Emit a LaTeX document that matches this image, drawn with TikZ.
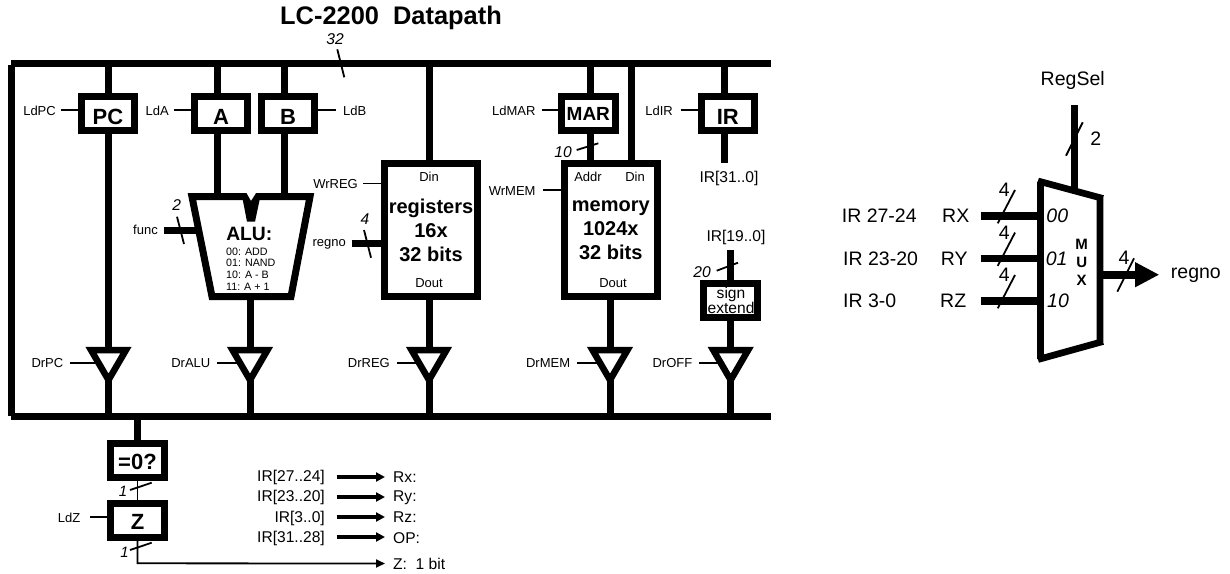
\documentclass[tikz,border=0pt]{standalone}
\usepackage{fontspec}
\setmainfont{Liberation Sans}
\usetikzlibrary{arrows.meta,shapes.geometric,calc}
\newcommand\fsz[1]{\fontsize{#1}{#1}\selectfont}
\tikzset{
  x=1pt,y=-1pt,
  bus/.style={line width=7pt},
  wire/.style={line width=7pt},
  ctl/.style={line width=1.8pt},
  slash/.style={line width=1.8pt},
  rbox/.style={draw,line width=7pt,minimum width=53.5pt,minimum height=34pt,inner sep=0pt,font=\bfseries\fsz{22},text height=21pt,text depth=0pt},
  bigbox/.style={draw,line width=7pt,minimum width=93pt,minimum height=133pt,inner sep=0pt,font=\bfseries\fontsize{20}{24}\selectfont,align=center},
  tri/.style={draw,line width=6.5pt,isosceles triangle,isosceles triangle stretches,shape border rotate=-90,minimum width=35pt,minimum height=30pt,inner sep=0pt,outer sep=0pt,anchor=apex},
  sm/.style={inner sep=0pt,font=\fsz{13}},
  md/.style={inner sep=0pt,font=\fsz{15.6}},
  lg/.style={inner sep=0pt,font=\fsz{19.5}},
  num/.style={inner sep=0pt,font=\itshape\fsz{15.6}},
  thin arrow/.style={line width=1.8pt,-{Triangle[length=9pt,width=8pt]}},
  thick arrow/.style={line width=3.6pt,-{Triangle[length=9pt,width=9pt]}},
}
\begin{document}
\begin{tikzpicture}
\useasboundingbox (0,0) rectangle (1230,573);
% title
\node[inner sep=0pt,font=\bfseries\fsz{25.4}] (title) at (391,18) {LC-2200\hspace{0.556em}Datapath};
% buses
\coordinate (tl) at (11,63.5); \coordinate (tr) at (771,63.5);
\coordinate (bl) at (11,416.7); \coordinate (br) at (771,416.7);
\coordinate (ltop) at (11.3,64.5); \coordinate (lbot) at (11.3,416);
\draw[bus] (tl) -- (tr); \draw[bus] (bl) -- (br); \draw[bus] (ltop) -- (lbot);
% bus width
\node[num] (n32) at (335,39) {32};
\coordinate (s32a) at (337.3,49.3); \coordinate (s32b) at (344.3,77.3);
\draw[slash] (s32a) -- (s32b);
% registers
\node[rbox] (PC) at (108,113.5) {PC};
\node[rbox] (A) at (221,113.5) {A};
\node[rbox] (B) at (288,113.5) {B};
\node[rbox,font=\bfseries\fsz{19},text height=14.6pt] (MAR) at (588.3,113.5) {MAR};
\node[rbox] (IR) at (727.8,113.5) {IR};
\node[rbox,text height=19pt] (EQ) at (137.5,460) {=0?};
\node[rbox,text height=18.4pt] (Z) at (137.5,520) {Z};
% big boxes
\node[bigbox] (regs) at (431,230) {registers\\16x\\32 bits};
\node[bigbox] (mem) at (610.8,230) {memory\\1024x\\32 bits};
\node[sm] (dinr) at (429,176.7) {Din};
\node[sm] (doutr) at (429,283.5) {Dout};
\node[sm] (addr) at (588,176.7) {Addr};
\node[sm] (dinm) at (635,176.7) {Din};
\node[sm] (doutm) at (613,283.5) {Dout};
% sign extend
\node[md] (sg) at (731,294) {sign};
\node[md] (ex) at (731,308) {extend};
\node[rbox] (SX) at (730.7,300) {};
% ALU
\coordinate (alua) at (217.5,197); \coordinate (alub) at (284.5,197);
\coordinate (aluo) at (250,296.5); \coordinate (aluf) at (196.5,230);
\draw[line width=7pt,line join=miter]
  (244,196.7) -- (192,196.7) -- (212,296.5) -- (291,296.5) -- (310,196.7) -- (258,196.7);
\fill (241.5,193.2) -- (246.5,193.2) -- (251,201) -- (256,193.2) -- (261,193.2) -- (255,221.7) -- (247,221.7) -- cycle;
\node[inner sep=0pt,font=\bfseries\fsz{19.3}] (alut) at (249.3,234) {ALU:};
\node[inner sep=0pt,font=\fsz{10.7},anchor=west] (a0) at (226,251.7) {00: ADD};
\node[inner sep=0pt,font=\fsz{10.7},anchor=west] (a1) at (226,263.3) {01: NAND};
\node[inner sep=0pt,font=\fsz{10.7},anchor=west] (a2) at (226,275) {10: A - B};
\node[inner sep=0pt,font=\fsz{10.7},anchor=west] (a3) at (226,286.7) {11: A + 1};
% tristates
\node[tri] (tPC) at (108.5,380) {};
\node[tri] (tALU) at (250,380) {};
\node[tri] (tREG) at (429,380) {};
\node[tri] (tMEM) at (610,380) {};
\node[tri] (tOFF) at (730.7,380) {};
% top wires
\coordinate (jPC) at (108.5,63.5); \coordinate (jA) at (217.5,63.5); \coordinate (jB) at (284.5,63.5);
\coordinate (jR) at (429,63.5); \coordinate (jM) at (590,63.5); \coordinate (jD) at (631,63.5); \coordinate (jI) at (724.3,63.5);
\draw[wire] (jPC) -- (jPC |- PC.north);
\draw[wire] (jPC |- PC.south) -- (tPC.lower side);
\draw[wire] (jA) -- (jA |- A.north);
\draw[wire] (jA |- A.south) -- (alua);
\draw[wire] (jB) -- (jB |- B.north);
\draw[wire] (jB |- B.south) -- (alub);
\draw[wire] (jR) -- (jR |- regs.north);
\draw[wire] (jM) -- (jM |- MAR.north);
\draw[wire] (jM |- MAR.south) -- (jM |- mem.north);
\draw[wire] (jD) -- (jD |- mem.north);
\draw[wire] (jI) -- (jI |- IR.north);
\coordinate (irend) at (724.3,163);
\draw[wire] (jI |- IR.south) -- (irend);
\draw[wire] (aluo) -- (tALU.lower side);
\draw[wire] (tREG |- regs.south) -- (tREG.lower side);
\draw[wire] (tMEM |- mem.south) -- (tMEM.lower side);
\coordinate (sxtop) at (730.7,250);
\draw[wire] (sxtop) -- (sxtop |- SX.north);
\draw[wire] (SX.south) -- (tOFF.lower side);
% outputs to lower bus
\foreach \t in {tPC,tALU,tREG,tMEM,tOFF} { \draw[wire] (\t.apex) -- (\t.apex |- bl); }
% =0?, Z
\coordinate (jZ) at (137.5,416.7);
\draw[wire] (jZ) -- (EQ.north);
\draw[ctl] (EQ.south) -- (Z.north);
\coordinate (zc) at (137.5,563.3);
\node[md,anchor=west] (zl) at (393,563.5) {Z:\hspace{0.556em}1 bit};
\draw[thin arrow] (Z.south) -- (zc) -- (zl.west -| 385,0);
\node[num,font=\itshape\fsz{15}] (n1a) at (123,491.5) {1};
\node[num,font=\itshape\fsz{15}] (n1b) at (124.5,552) {1};
\coordinate (s1a) at (130,490); \coordinate (s1b) at (151.7,482.7);
\coordinate (s1c) at (130,550); \coordinate (s1d) at (151.7,542.7);
\draw[slash] (s1a) -- (s1b); \draw[slash] (s1c) -- (s1d);
% load / drive labels
\node[sm,anchor=east] (lPC) at (56,110.7) {LdPC};
\node[sm,anchor=east] (lA) at (169,110.7) {LdA};
\node[sm,anchor=west] (lB) at (343,110.7) {LdB};
\node[sm,anchor=east] (lMAR) at (535.7,110.7) {LdMAR};
\node[sm,anchor=east] (lIR) at (673,110.7) {LdIR};
\node[sm,anchor=east] (lZ) at (80.5,517.5) {LdZ};
\coordinate (cPC) at (60.7,110); \coordinate (cA) at (174,110); \coordinate (cB) at (335.7,110);
\coordinate (cMAR) at (541.7,110); \coordinate (cIR) at (680.7,110); \coordinate (cZ) at (90,517);
\draw[ctl] (cPC) -- (cPC -| PC.west);
\draw[ctl] (cA) -- (cA -| A.west);
\draw[ctl] (cB) -- (cB -| B.east);
\draw[ctl] (cMAR) -- (cMAR -| MAR.west);
\draw[ctl] (cIR) -- (cIR -| IR.west);
\draw[ctl] (cZ) -- (cZ -| Z.west);
\node[sm,anchor=east] (dPC) at (63.5,363.3) {DrPC};
\node[sm,anchor=east] (dALU) at (210.5,363.3) {DrALU};
\node[sm,anchor=east] (dREG) at (390,363.3) {DrREG};
\node[sm,anchor=east] (dMEM) at (570.3,363.3) {DrMEM};
\node[sm,anchor=east] (dOFF) at (692.5,363.3) {DrOFF};
\coordinate (ePC) at (70,363); \coordinate (eALU) at (217,363); \coordinate (eREG) at (397,363);
\coordinate (eMEM) at (577,363); \coordinate (eOFF) at (699,363);
\draw[ctl] (ePC) -- (ePC -| tPC.right side);
\draw[ctl] (eALU) -- (eALU -| tALU.right side);
\draw[ctl] (eREG) -- (eREG -| tREG.right side);
\draw[ctl] (eMEM) -- (eMEM -| tMEM.right side);
\draw[ctl] (eOFF) -- (eOFF -| tOFF.right side);
% register file / memory controls
\node[sm,anchor=east] (wr) at (358,184) {WrREG};
\coordinate (cwr) at (363,183.5); \draw[ctl] (cwr) -- (cwr -| regs.west);
\node[sm,anchor=east] (wm) at (535.7,190.7) {WrMEM};
\coordinate (cwm) at (543,190); \draw[ctl] (cwm) -- (cwm -| mem.west);
\node[sm,anchor=east] (rg) at (346,244) {regno};
\coordinate (crg) at (351.7,243.7); \draw[wire] (crg) -- (crg -| regs.west);
\coordinate (s4a) at (364,230); \coordinate (s4b) at (371,257.7); \draw[slash] (s4a) -- (s4b);
\node[num] (n4) at (365,219) {4};
\node[sm,anchor=east] (fn) at (158,230) {func};
\coordinate (cfn) at (164,230); \draw[wire] (cfn) -- (aluf);
\coordinate (s2a) at (177,216.7); \coordinate (s2b) at (184,244); \draw[slash] (s2a) -- (s2b);
\node[num] (n2) at (176.7,205) {2};
\node[num] (n10) at (563,151.7) {10};
\coordinate (s10a) at (576.7,150); \coordinate (s10b) at (598.3,143.3); \draw[slash] (s10a) -- (s10b);
\node[num] (n20) at (702,272) {20};
\coordinate (s20a) at (716.7,270.7); \coordinate (s20b) at (738,262.7); \draw[slash] (s20a) -- (s20b);
\node[md] (ir1) at (729,178) {IR[31..0]};
\node[md] (ir2) at (736,237) {IR[19..0]};
% IR fields
\node[md,anchor=east] (f1) at (325,477.7) {IR[27..24]};
\node[md,anchor=east] (f2) at (325,497.5) {IR[23..20]};
\node[md,anchor=east] (f3) at (325,518) {IR[3..0]};
\node[md,anchor=east] (f4) at (325,538) {IR[31..28]};
\node[md,anchor=west] (g1) at (393,477.5) {Rx:};
\node[md,anchor=west] (g2) at (393,497.5) {Ry:};
\node[md,anchor=west] (g3) at (393,517.5) {Rz:};
\node[md,anchor=west] (g4) at (393,538) {OP:};
\foreach \i/\y in {1/477,2/497,3/517,4/537}{
  \coordinate (as\i) at (336.7,\y); \coordinate (ae\i) at (385,\y);
  \draw[thick arrow] (as\i) -- (ae\i);
}
% MUX
\draw[line width=6.7pt,line join=miter] (1040.5,181.5) -- (1040.5,359) (1038,181) -- (1103,198.5) (1100,196) -- (1100,344) (1103,341.5) -- (1038,359.5);
\node[inner sep=0pt,font=\bfseries\fsz{15}] (mm) at (1081.7,244) {M};
\node[inner sep=0pt,font=\bfseries\fsz{15}] (mu) at (1081.7,262.3) {U};
\node[inner sep=0pt,font=\bfseries\fsz{15}] (mx) at (1081.7,280.7) {X};
\node[lg] (rs) at (1072.7,80.7) {RegSel};
\coordinate (rstop) at (1074.3,105); \coordinate (rsbot) at (1074.3,188);
\draw[wire] (rstop) -- (rsbot);
\coordinate (sra) at (1082.7,122.3); \coordinate (srb) at (1066,155.7); \draw[slash] (sra) -- (srb);
\node[lg] (rs2) at (1095.7,139) {2};
\foreach \nm/\y/\lab/\xl/\reg/\xr/\sel/\xs in {a/215.7/IR 27-24/841.7/RX/942/00/1057.3, b/258.3/IR 23-20/843/RY/940.7/01/1056.7, c/300.7/IR 3-0/843/RZ/940/10/1058}{
  \node[lg,anchor=west] (il\nm) at (\xl,\y) {\lab};
  \node[lg,anchor=west] (ir\nm) at (\xr,\y) {\reg};
  \node[lg,font=\itshape\fsz{19.5}] (is\nm) at (\xs,\y) {\sel};
  \coordinate (iw\nm) at (980.7,\y); \coordinate (ix\nm) at (1040,\y);
  \draw[line width=7.6pt] (iw\nm) -- (ix\nm);
  \coordinate (iu\nm) at (1015,\y-25.7); \coordinate (iv\nm) at (997.7,\y+7.6);
  \draw[slash] (iu\nm) -- (iv\nm);
  \node[lg] (if\nm) at (1004.3,\y-25.7) {4};
}
\coordinate (mo) at (1103,274.7); \coordinate (mt) at (1159.3,274.7);
\draw[line width=8pt,-{Triangle[length=24.3pt,width=23.4pt]}] (mo) -- (mt);
\coordinate (soa) at (1134,258.3); \coordinate (sob) at (1117.3,291.7); \draw[slash] (soa) -- (sob);
\node[lg] (o4) at (1124,258) {4};
\node[lg,anchor=west] (rg2) at (1170.7,275) {regno};
\end{tikzpicture}
\end{document}
